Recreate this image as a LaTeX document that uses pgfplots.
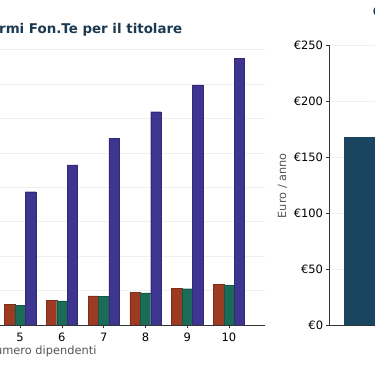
\documentclass[border=0pt]{standalone}
\usepackage{pgfplots}
\pgfplotsset{compat=1.18}
\usepackage{fontspec}
\setmainfont{DejaVu Sans}
\definecolor{cRed}{HTML}{9C3B22}
\definecolor{cGreen}{HTML}{1A6B58}
\definecolor{cBlue}{HTML}{3E3590}
\definecolor{cNavy}{HTML}{1A4560}
\definecolor{cTitle}{HTML}{1B3A52}
\definecolor{cGrid}{HTML}{F0F0F0}
\definecolor{cLab}{HTML}{555555}
\definecolor{cAxis}{HTML}{333333}
\begin{document}
\begin{tikzpicture}[x=1pt,y=1pt]
% left chart (cropped)
\begin{axis}[
  at={(0pt,41pt)}, anchor=south west, scale only axis,
  width=265pt, height=280pt,
  xmin=4.518, xmax=10.8625, ymin=0, ymax=1627.5,
  axis x line*=bottom, axis y line*=left,
  y axis line style={draw=none},
  x axis line style={cAxis, line width=0.8pt},
  xtick={5,6,7,8,9,10},
  ytick={200,400,...,1600},
  yticklabels={},
  y tick style={draw=none},
  x tick style={cAxis, line width=0.8pt},
  tick align=outside,
  major tick length=3.5pt,
  ymajorgrids, grid style={cGrid, line width=0.8pt},
  /pgf/number format/assume math mode=true,
  xticklabel={\pgfmathprintnumber{\tick}},
  ticklabel style={font=\fontsize{11.5}{13}\selectfont, text=black},
  xticklabel style={yshift=-0.6pt},
]
\addplot[ybar, bar width=0.25, bar shift=-0.25, fill=cRed, draw=cRed!80!black, line width=0.3pt]
  coordinates {(5,120) (6,145) (7,169) (8,190) (9,215) (10,237)};
\addplot[ybar, bar width=0.25, bar shift=0, fill=cGreen, draw=cGreen!80!black, line width=0.3pt]
  coordinates {(5,115) (6,140) (7,165) (8,186) (9,211) (10,231)};
\addplot[ybar, bar width=0.25, bar shift=0.25, fill=cBlue, draw=cBlue!80!black, line width=0.3pt]
  coordinates {(5,775) (6,930) (7,1085) (8,1240) (9,1395) (10,1550)};
\end{axis}
% right chart (cropped)
\begin{axis}[
  at={(329.3pt,41pt)}, anchor=south west, scale only axis,
  width=45.7pt, height=280pt,
  xmin=0, xmax=1, ymin=0, ymax=250,
  axis x line*=bottom, axis y line*=left,
  axis line style={cAxis, line width=0.8pt},
  xtick=\empty,
  ytick={0,50,...,250},
  tick align=outside,
  major tick length=3.5pt,
  y tick style={cAxis, line width=0.8pt},
  ymajorgrids, grid style={cGrid, line width=0.8pt},
  /pgf/number format/assume math mode=true,
  yticklabel={€\pgfmathprintnumber{\tick}},
  ticklabel style={font=\fontsize{11.5}{13}\selectfont, text=black},
  yticklabel style={xshift=0.8pt},
]
\addplot[ybar, bar width=1.36, fill=cNavy, draw=none] coordinates {(1,168)};
\end{axis}
\node[rotate=90, text=cLab, font=\fontsize{11.3}{13}\selectfont, inner sep=0] at (282.5,180.2) {Euro / anno};
\node[anchor=base east, inner sep=0, text=cTitle, font=\bfseries\fontsize{13.4}{15}\selectfont] at (182.5,332.7) {rmi Fon.Te per il titolare};
\node[anchor=base west, inner sep=0, text=cTitle, font=\bfseries\fontsize{13.4}{15}\selectfont] at (372.7,349.5) {Costo};
\node[anchor=base east, inner sep=0, text=cLab, font=\fontsize{11.4}{13}\selectfont] at (96.7,11) {Numero dipendenti};
\pgfresetboundingbox
\useasboundingbox (0,0) rectangle (375,366);
\end{tikzpicture}
\end{document}
